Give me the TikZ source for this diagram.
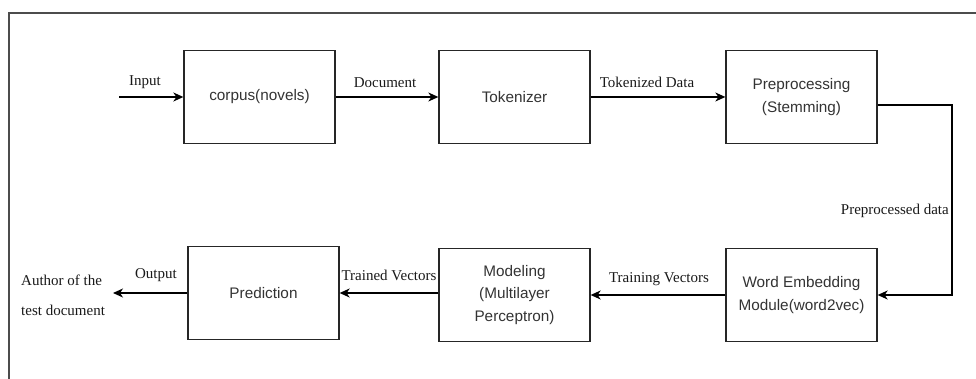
\documentclass[tikz,border=0pt]{standalone}
\usepackage{fontspec}
\setmainfont{Liberation Serif}
\newfontfamily\boxfont{Liberation Sans}
\usetikzlibrary{arrows.meta}
\begin{document}
\begin{tikzpicture}[x=1pt,y=-1pt,
  blk/.style={draw=black!85, line width=1.3pt, minimum width=151pt, minimum height=93pt,
    align=center, inner sep=0pt, text=black!80, font=\boxfont\fontsize{15.3}{22.5}\selectfont},
  lbl/.style={inner sep=0pt, font=\fontsize{15}{18}\selectfont, text=black!90},
  arr/.style={draw=black, line width=1.3pt, -{Stealth[length=10pt,width=9pt,inset=3pt]}},
  frame/.style={draw=black!70, line width=1.6pt}]
\useasboundingbox (0,0) rectangle (976,379);
% frame
\draw[frame] (9,379) -- (9,13) -- (976,13);
% boxes
\node[blk] (corpus) at (259.5,97) {corpus(novels)};
\node[blk] (tok) at (514.5,97) {Tokenizer};
\node[blk] (pre) at (801.5,97) {Preprocessing\\(Stemming)};
\node[blk] (we) at (801.5,295) {Word Embedding\\Module(word2vec)};
\node[blk] (mod) at (514.5,295) {Modeling\\(Multilayer\\Perceptron)};
\node[blk] (pred) at (263.5,293) {Prediction};
% free ends
\coordinate (in) at (119,97);
\coordinate (out) at (113,293);
\coordinate (r1) at (952,105);
% connectors
\draw[arr] (in) -- (corpus.west);
\draw[arr] (corpus.east) -- (tok.west);
\draw[arr] (tok.east) -- (pre.west);
\draw[arr] (pre.east |- r1) -- (r1) |- (we.east);
\draw[arr] (we.west) -- (mod.east);
\draw[arr] (mod.west |- pred.east) -- (pred.east);
\draw[arr] (pred.west) -- (out);
% labels
\node[lbl] (lin) at (145,82) {Input};
\node[lbl] (ldoc) at (385,83) {Document};
\node[lbl] (ltok) at (647,82) {Tokenized Data};
\node[lbl, anchor=east] (lpre) at (949,211) {Preprocessed data};
\node[lbl] (ltrv) at (659,279) {Training Vectors};
\node[lbl] (ltdv) at (389,275) {Trained Vectors};
\node[lbl] (lout) at (156,275) {Output};
\node[lbl, align=left, anchor=west, font=\fontsize{15}{30}\selectfont] (auth) at (21,295) {Author of the\\test document};
\end{tikzpicture}
\end{document}
